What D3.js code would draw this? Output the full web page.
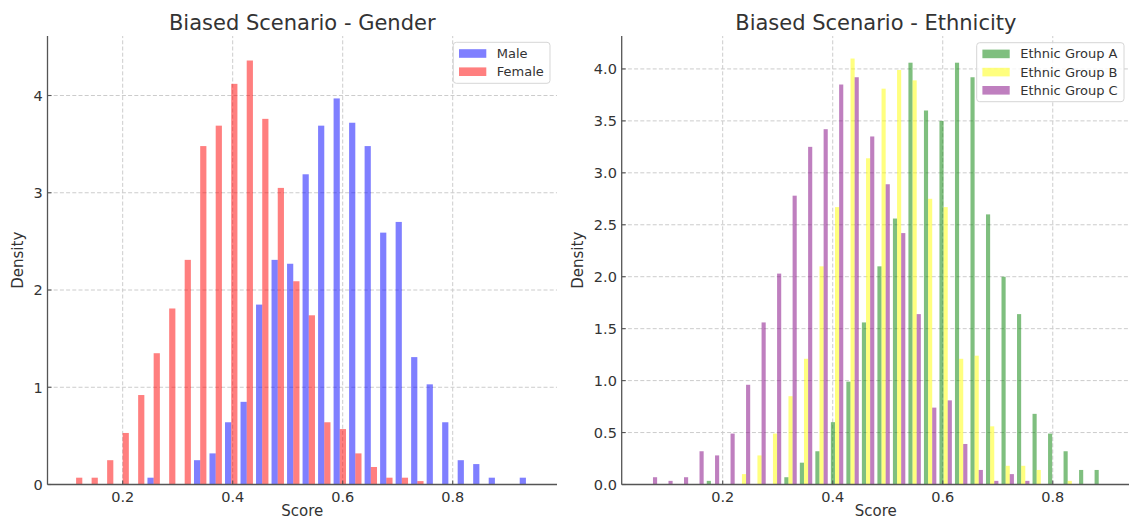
<!DOCTYPE html>
<html><head><meta charset="utf-8">
<script src="https://cdn.jsdelivr.net/npm/d3@7"></script>
<style>
body{margin:0;background:#fff}
svg{display:block;font-family:"DejaVu Sans",sans-serif}
</style>
</head><body>
<svg id="c" width="1129" height="520"></svg>
<script>
// ---- data ----
const genderBinEdges = [0.1012,0.1294,0.1576,0.1858,0.2140,0.2422,0.2704,0.2986,0.3268,0.3550,0.3832,0.4114,0.4396,0.4678,0.4960,0.5242,0.5524,0.5806,0.6088,0.6370,0.6652,0.6934,0.7216,0.7498,0.7780,0.8062,0.8344,0.8626,0.8908,0.9190,0.9472];
const maleDensity = [0,0,0,0,0,0.07,0,0,0.25,0.32,0.64,0.85,1.85,2.31,2.27,3.19,3.69,3.97,3.72,3.48,2.59,2.70,1.31,1.03,0.64,0.25,0.21,0.07,0,0.07];
const femaleDensity = [0.07,0.07,0.25,0.53,0.92,1.35,1.81,2.31,3.48,3.69,4.12,4.36,3.76,3.05,2.09,1.74,0.64,0.57,0.32,0.18,0.07,0.07,0.035,0,0,0,0,0,0,0];

const ethnicBinEdges = [0.0554,0.0836,0.1118,0.1400,0.1682,0.1964,0.2246,0.2528,0.2810,0.3092,0.3374,0.3656,0.3938,0.4220,0.4502,0.4784,0.5066,0.5348,0.5630,0.5912,0.6194,0.6476,0.6758,0.7040,0.7322,0.7604,0.7886,0.8168,0.8450,0.8732,0.9014];
const groupADensity = [0,0,0,0,0.035,0,0,0,0,0.07,0.21,0.32,0.60,0.99,1.56,2.10,2.56,4.06,3.60,3.50,4.06,3.92,2.60,2.00,1.64,0.68,0.49,0.32,0.14,0.14];
const groupBDensity = [0,0,0,0,0,0,0.10,0.28,0.49,0.85,1.21,2.10,2.67,4.10,3.14,3.81,3.99,3.89,2.75,2.67,1.21,1.24,0.56,0.18,0.18,0.14,0,0.035,0,0];
const groupCDensity = [0.07,0.035,0.07,0.32,0.28,0.49,0.96,1.56,2.03,2.78,3.25,3.42,3.85,3.92,3.35,2.89,2.42,1.64,0.74,0.81,0.39,0.14,0.035,0.10,0.035,0,0,0,0,0];

const xTicks = [0.2,0.4,0.6,0.8];
const genderYTicks = [0,1,2,3,4];
const ethnicYTicks = [0,0.5,1,1.5,2,2.5,3,3.5,4];
const genderSeries = ["Male","Female"];
const ethnicSeries = ["Ethnic Group A","Ethnic Group B","Ethnic Group C"];

// ---- drawing ----
const svg = d3.select("#c");
const spineColor = "#555", textColor = "#333";

function panel(cfg){
  const g = svg.append("g");
  const x = d3.scaleLinear().domain(cfg.xDomain).range(cfg.xRange);
  const y = d3.scaleLinear().domain([0, cfg.yMax]).range(cfg.yRange);
  const [x0, x1] = cfg.xRange, [yb, yt] = cfg.yRange;

  // grid
  g.selectAll(".gx").data(xTicks).join("line")
    .attr("x1", d=>x(d)).attr("x2", d=>x(d)).attr("y1", yb).attr("y2", yt)
    .attr("stroke","#cccccc").attr("stroke-width",1).attr("stroke-dasharray","4,2.2");
  g.selectAll(".gy").data(cfg.yTicks.filter(d=>d>0)).join("line")
    .attr("x1", x0).attr("x2", x1).attr("y1", d=>y(d)).attr("y2", d=>y(d))
    .attr("stroke","#cccccc").attr("stroke-width",1).attr("stroke-dasharray","4,2.2");

  // bars
  const n = cfg.series.length;
  cfg.series.forEach((s, k) => {
    const recs = s.values.map((v,i)=>({v, l: cfg.edges[i], r: cfg.edges[i+1]}));
    g.append("g").selectAll("rect").data(recs.filter(d=>d.v>0)).join("rect")
      .attr("x", d => { const bw = d.r - d.l; return x(d.l + 0.1*bw + k*0.8*bw/n); })
      .attr("width", d => { const bw = d.r - d.l; return x(d.l + 0.8*bw/n) - x(d.l); })
      .attr("y", d => y(d.v))
      .attr("height", d => y(0) - y(d.v))
      .attr("fill", s.color).attr("fill-opacity", 0.5);
  });

  // spines
  g.append("line").attr("x1",x0).attr("x2",x0).attr("y1",yb).attr("y2",yt)
    .attr("stroke",spineColor).attr("stroke-width",1.3);
  g.append("line").attr("x1",x0).attr("x2",x1).attr("y1",yb).attr("y2",yb)
    .attr("stroke",spineColor).attr("stroke-width",1.3);

  // ticks
  g.selectAll(".tx").data(xTicks).join("line")
    .attr("x1", d=>x(d)).attr("x2", d=>x(d)).attr("y1", yb).attr("y2", yb-4)
    .attr("stroke",spineColor).attr("stroke-width",1.1);
  g.selectAll(".ty").data(cfg.yTicks).join("line")
    .attr("x1", x0).attr("x2", x0+4).attr("y1", d=>y(d)).attr("y2", d=>y(d))
    .attr("stroke",spineColor).attr("stroke-width",1.1);

  g.selectAll(".lx").data(xTicks).join("text")
    .attr("x", d=>x(d)).attr("y", yb+17.5).attr("text-anchor","middle")
    .attr("font-size",14.5).attr("fill",textColor).text(d=>d3.format(".1f")(d));
  g.selectAll(".ly").data(cfg.yTicks).join("text")
    .attr("x", x0-4.8).attr("y", d=>y(d)+5.3).attr("text-anchor","end")
    .attr("font-size",14.5).attr("fill",textColor).text(d=>cfg.yFmt(d));

  // titles & labels
  g.append("text").attr("x",(x0+x1)/2).attr("y",30).attr("text-anchor","middle")
    .attr("font-size",21).attr("fill",textColor).text(cfg.title);
  g.append("text").attr("x",(x0+x1)/2).attr("y",516).attr("text-anchor","middle")
    .attr("font-size",15).attr("fill",textColor).text("Score");
  g.append("text").attr("transform",`translate(${cfg.ylabX},${(yb+yt)/2}) rotate(-90)`)
    .attr("text-anchor","middle").attr("font-size",15).attr("fill",textColor).text("Density");

  // legend
  const L = cfg.legend;
  const lg = g.append("g").attr("transform",`translate(${L.x},${L.y})`);
  lg.append("rect").attr("width",L.w).attr("height",L.h).attr("rx",3)
    .attr("fill","#fff").attr("fill-opacity",0.8).attr("stroke","#d6d6d6").attr("stroke-width",1);
  cfg.series.forEach((s,k)=>{
    const cy = 11.2 + k*18.2;
    lg.append("rect").attr("x",5.7).attr("y",cy-4.3).attr("width",27.3).attr("height",8.6)
      .attr("fill",s.color).attr("fill-opacity",0.5);
    lg.append("text").attr("x",43.5).attr("y",cy+4.6).attr("font-size",13)
      .attr("fill",textColor).text(s.name);
  });
}

panel({
  edges: genderBinEdges,
  series: [
    {name: genderSeries[0], values: maleDensity, color: "#0000ff"},
    {name: genderSeries[1], values: femaleDensity, color: "#ff0000"}
  ],
  xDomain: [0.0633, 0.9896], xRange: [47.5, 557],
  yMax: 4.612, yRange: [484.5, 36],
  yTicks: genderYTicks, yFmt: d3.format("d"),
  title: "Biased Scenario - Gender", ylabX: 23,
  legend: {x: 453.3, y: 42.3, w: 96.7, h: 41}
});

panel({
  edges: ethnicBinEdges,
  series: [
    {name: ethnicSeries[0], values: groupADensity, color: "#008000"},
    {name: ethnicSeries[1], values: groupBDensity, color: "#ffff00"},
    {name: ethnicSeries[2], values: groupCDensity, color: "#800080"}
  ],
  xDomain: [0.0164, 0.9404], xRange: [621.7, 1130],
  yMax: 4.317, yRange: [484.5, 36],
  yTicks: ethnicYTicks, yFmt: d3.format(".1f"),
  title: "Biased Scenario - Ethnicity", ylabX: 583,
  legend: {x: 976.7, y: 42.7, w: 147.3, h: 59}
});
</script>
</body></html>
